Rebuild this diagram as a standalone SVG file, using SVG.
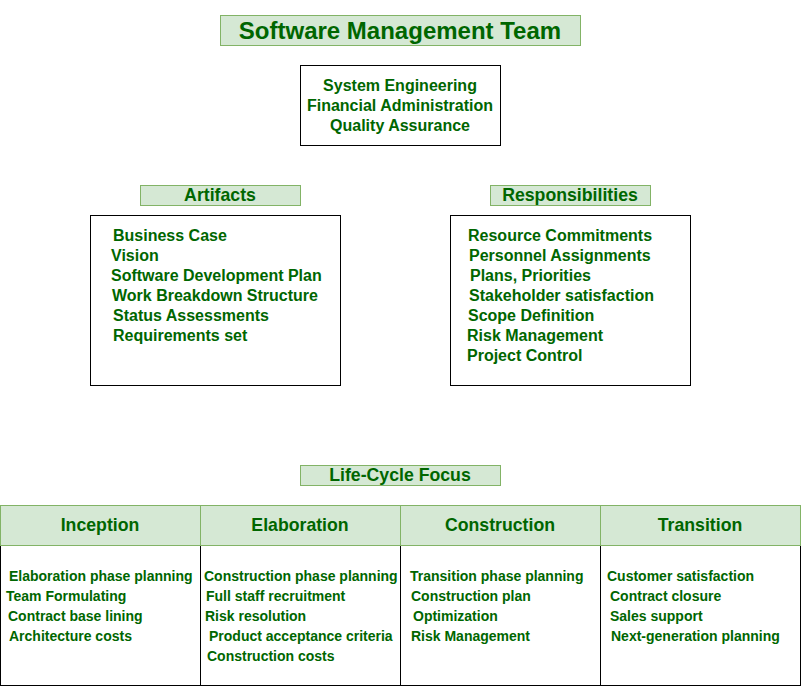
<svg xmlns="http://www.w3.org/2000/svg" width="801" height="686" viewBox="0 0 801 686">
  <style>
    text { font-family: "Liberation Sans", Arial, sans-serif; font-weight: bold; fill: #006600; }
    .label { fill: #d5e8d4; stroke: #82b366; stroke-width: 1; }
    .box { fill: #ffffff; stroke: #000000; stroke-width: 1; }
    .title { font-size: 24px; text-anchor: middle; }
    .mid { text-anchor: middle; }
    .t15 { font-size: 16px; }
    .t16 { font-size: 17.7px; }
    .t17 { font-size: 17.7px; }
    .t13 { font-size: 14px; }
  </style>
  <rect width="801" height="686" fill="#ffffff"/>

  <g id="title">
    <rect class="label" x="220.5" y="15.5" width="360" height="30"/>
    <text class="title" x="400" y="39">Software Management Team</text>
  </g>

  <g id="team-functions">
    <rect class="box" x="300.5" y="65.5" width="200" height="80"/>
    <text class="t15 mid" x="400" y="91">System Engineering</text>
    <text class="t15 mid" x="400" y="111">Financial Administration</text>
    <text class="t15 mid" x="400" y="131">Quality Assurance</text>
  </g>

  <g id="artifacts-label">
    <rect class="label" x="140.5" y="185.5" width="160" height="20"/>
    <text class="t16 mid" x="220" y="201">Artifacts</text>
  </g>

  <g id="artifacts">
    <rect class="box" x="90.5" y="215.5" width="250" height="170"/>
    <text class="t15" x="113" y="241">Business Case</text>
    <text class="t15" x="111" y="261">Vision</text>
    <text class="t15" x="111" y="281">Software Development Plan</text>
    <text class="t15" x="112" y="301">Work Breakdown Structure</text>
    <text class="t15" x="113" y="321">Status Assessments</text>
    <text class="t15" x="113" y="341">Requirements set</text>
  </g>

  <g id="responsibilities-label">
    <rect class="label" x="490.5" y="185.5" width="160" height="20"/>
    <text class="t16 mid" x="570" y="201">Responsibilities</text>
  </g>

  <g id="responsibilities">
    <rect class="box" x="450.5" y="215.5" width="240" height="170"/>
    <text class="t15" x="468" y="241">Resource Commitments</text>
    <text class="t15" x="469" y="261">Personnel Assignments</text>
    <text class="t15" x="470" y="281">Plans, Priorities</text>
    <text class="t15" x="469" y="301">Stakeholder satisfaction</text>
    <text class="t15" x="468" y="321">Scope Definition</text>
    <text class="t15" x="467" y="341">Risk Management</text>
    <text class="t15" x="467" y="361">Project Control</text>
  </g>

  <g id="lifecycle-label">
    <rect class="label" x="300.5" y="465.5" width="200" height="20"/>
    <text class="t16 mid" x="400" y="481">Life-Cycle Focus</text>
  </g>

  <g id="inception">
    <rect class="box" x="0.5" y="545.5" width="200" height="140"/>
    <rect class="label" x="0.5" y="505.5" width="200" height="40"/>
    <text class="t17 mid" x="100" y="531">Inception</text>
    <text class="t13" x="9" y="581">Elaboration phase planning</text>
    <text class="t13" x="6" y="601">Team Formulating</text>
    <text class="t13" x="8" y="621">Contract base lining</text>
    <text class="t13" x="9" y="641">Architecture costs</text>
  </g>

  <g id="elaboration">
    <rect class="box" x="200.5" y="545.5" width="200" height="140"/>
    <rect class="label" x="200.5" y="505.5" width="200" height="40"/>
    <text class="t17 mid" x="300" y="531">Elaboration</text>
    <text class="t13" x="204" y="581">Construction phase planning</text>
    <text class="t13" x="206" y="601">Full staff recruitment</text>
    <text class="t13" x="205" y="621">Risk resolution</text>
    <text class="t13" x="209" y="641">Product acceptance criteria</text>
    <text class="t13" x="207" y="661">Construction costs</text>
  </g>

  <g id="construction">
    <rect class="box" x="400.5" y="545.5" width="200" height="140"/>
    <rect class="label" x="400.5" y="505.5" width="200" height="40"/>
    <text class="t17 mid" x="500" y="531">Construction</text>
    <text class="t13" x="410" y="581">Transition phase planning</text>
    <text class="t13" x="411" y="601">Construction plan</text>
    <text class="t13" x="413" y="621">Optimization</text>
    <text class="t13" x="411" y="641">Risk Management</text>
  </g>

  <g id="transition">
    <rect class="box" x="600.5" y="545.5" width="200" height="140"/>
    <rect class="label" x="600.5" y="505.5" width="200" height="40"/>
    <text class="t17 mid" x="700" y="531">Transition</text>
    <text class="t13" x="607" y="581">Customer satisfaction</text>
    <text class="t13" x="610" y="601">Contract closure</text>
    <text class="t13" x="610" y="621">Sales support</text>
    <text class="t13" x="611" y="641">Next-generation planning</text>
  </g>

  <g id="connectors"></g>
</svg>
